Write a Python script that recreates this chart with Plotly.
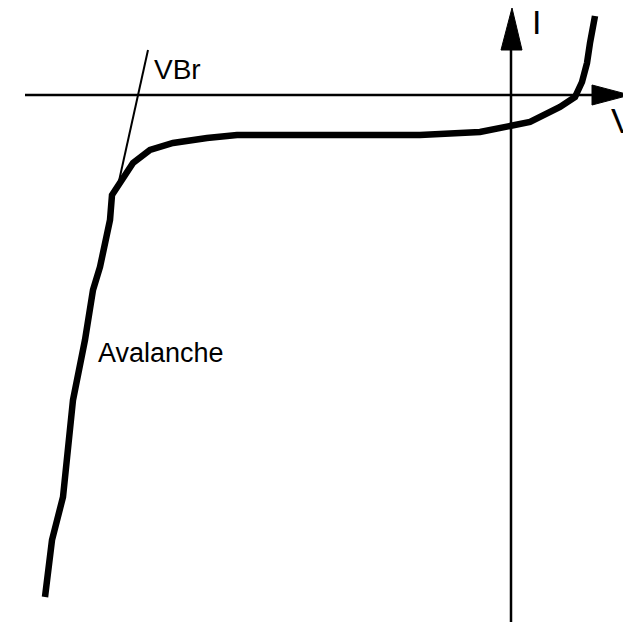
import plotly.graph_objects as go

# I-V curve of a diode (arbitrary units, origin at axes crossing)
voltage = [-466, -459, -448, -443, -438, -426, -418, -411, -401, -399, -389, -378,
           -361, -338, -304, -274, -241, -91, -31, 1, 19, 49, 64, 71, 76, 79, 82, 84]
current = [-502, -445, -402, -352, -305, -245, -195, -172, -125, -100, -85, -68,
           -55, -48, -43, -40, -40, -40, -37, -31, -27, -12, -2, 13, 32, 52, 72, 79]

# tangent line marking breakdown voltage
tangent_v = [-363, -394]
tangent_i = [45, -95]

# axes extents
x_axis_v = [-486, 100]
x_axis_i = [0, 0]
y_axis_v = [0, 0]
y_axis_i = [-527, 60]

# arrowheads
x_arrow_v = [119, 81, 81, 119]
x_arrow_i = [0, 10, -10, 0]
y_arrow_v = [1, -10, 11, 1]
y_arrow_i = [87, 45, 45, 87]

fig = go.Figure()
fig.add_trace(go.Scatter(x=x_axis_v, y=x_axis_i, mode="lines",
                         line=dict(color="black", width=2.5), hoverinfo="skip"))
fig.add_trace(go.Scatter(x=y_axis_v, y=y_axis_i, mode="lines",
                         line=dict(color="black", width=2.5), hoverinfo="skip"))
fig.add_trace(go.Scatter(x=x_arrow_v, y=x_arrow_i, mode="lines", fill="toself",
                         fillcolor="black", line=dict(color="black", width=1), hoverinfo="skip"))
fig.add_trace(go.Scatter(x=y_arrow_v, y=y_arrow_i, mode="lines", fill="toself",
                         fillcolor="black", line=dict(color="black", width=1), hoverinfo="skip"))
fig.add_trace(go.Scatter(x=tangent_v, y=tangent_i, mode="lines",
                         line=dict(color="black", width=2), hoverinfo="skip"))
fig.add_trace(go.Scatter(x=voltage, y=current, mode="lines",
                         line=dict(color="black", width=6.5), hoverinfo="skip"))

font_family = "Liberation Sans, Arial, sans-serif"
annos = [
    dict(x=-359, y=26, text="VBr", size=28),
    dict(x=-415, y=-258, text="Avalanche", size=27),
    dict(x=19, y=73, text="I", size=34),
    dict(x=98, y=-25, text="V", size=35),
]
for a in annos:
    fig.add_annotation(x=a["x"], y=a["y"], text=a["text"], showarrow=False,
                       xanchor="left", yanchor="middle",
                       font=dict(family=font_family, size=a["size"], color="black"))

# the page body has an 8px margin, so the figure is shifted by 8px
fig.update_layout(
    width=623, height=614,
    margin=dict(l=0, r=0, t=0, b=0),
    paper_bgcolor="white", plot_bgcolor="white",
    showlegend=False,
    xaxis=dict(range=[-503, 120], visible=False, fixedrange=True),
    yaxis=dict(range=[-527, 87], visible=False, fixedrange=True),
)
fig.write_html("out.html")
